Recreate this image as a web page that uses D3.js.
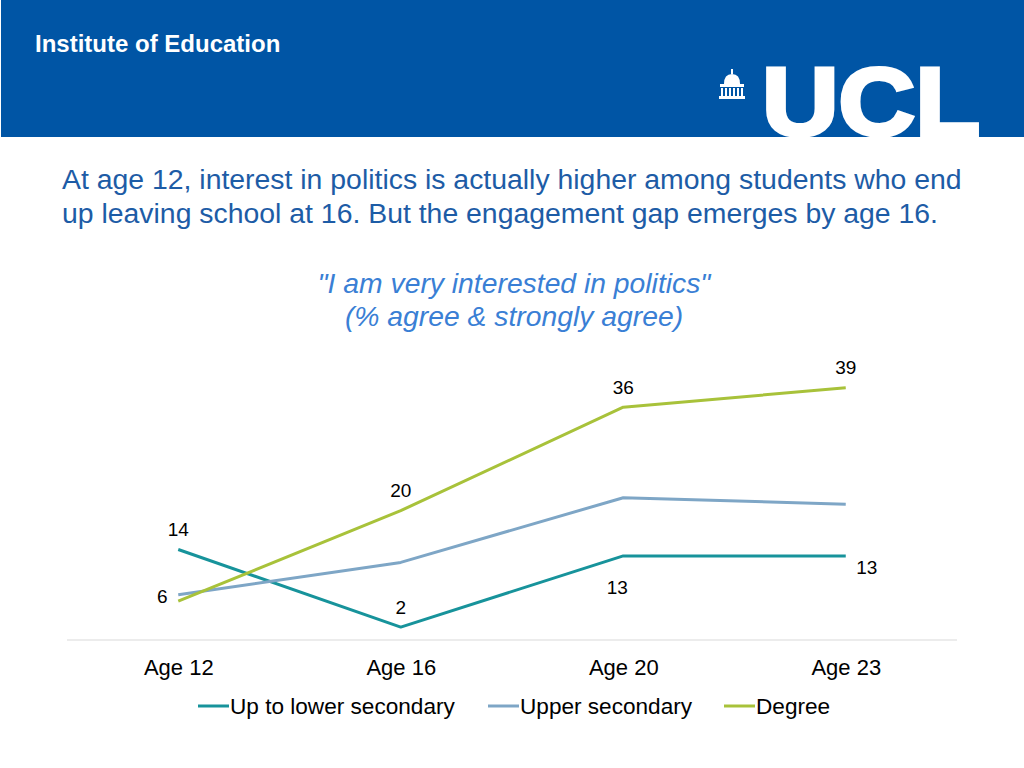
<!DOCTYPE html>
<html><head><meta charset="utf-8">
<script src="https://cdn.jsdelivr.net/npm/d3@7"></script>
<style>body{margin:0;background:#fff}svg{display:block}</style>
</head><body>
<script>
const categories = ["Age 12", "Age 16", "Age 20", "Age 23"];
const seriesNames = ["Up to lower secondary", "Upper secondary", "Degree"];
const lowerSecondary = [14, 2, 13, 13];
const upperSecondary = [7, 12, 22, 21];
const degree = [6, 20, 36, 39];
const seriesColors = ["#17939b", "#7ea6c6", "#a8c23a"];
const titleLines = ["At age 12, interest in politics is actually higher among students who end",
  "up leaving school at 16. But the engagement gap emerges by age 16."];
const subtitleLines = ["\"I am very interested in politics\"", "(% agree & strongly agree)"];

const W = 1024, H = 768;
const svg = d3.select("body").append("svg").attr("width", W).attr("height", H);
const font = "'Liberation Sans', Arial, sans-serif";

// header
svg.append("rect").attr("x", 1).attr("y", 0).attr("width", W - 1).attr("height", 137).attr("fill", "#0055a5");
svg.append("text").attr("x", 35).attr("y", 52).attr("fill", "#fff").attr("font-family", font)
  .attr("font-weight", "bold").attr("font-size", 24).text("Institute of Education");
const defs = svg.append("defs");
defs.append("clipPath").attr("id", "hdr").append("rect").attr("x", 0).attr("y", 0).attr("width", W).attr("height", 137);
const logo = svg.append("g").attr("clip-path", "url(#hdr)");
logo.append("text").attr("x", 762).attr("y", 135).attr("fill", "#fff").attr("stroke", "#fff").attr("stroke-width", 4)
  .attr("font-family", font).attr("font-weight", "bold").attr("font-size", 96)
  .attr("textLength", 218).attr("lengthAdjust", "spacingAndGlyphs").text("UCL");
// dome icon
const ic = svg.append("g").attr("fill", "#fff");
ic.append("rect").attr("x", 731).attr("y", 69).attr("width", 2).attr("height", 5);
ic.append("path").attr("d", "M724,84 Q724,74 732,74 Q740,74 740,84 Z");
ic.append("rect").attr("x", 720).attr("y", 84).attr("width", 24).attr("height", 3);
for (let i = 0; i < 6; i++) ic.append("rect").attr("x", 721 + i * 4).attr("y", 88).attr("width", 2).attr("height", 8);
ic.append("rect").attr("x", 719).attr("y", 96).attr("width", 26).attr("height", 3);

// title
svg.append("g").selectAll("text").data(titleLines).join("text")
  .attr("x", 62).attr("y", (d, i) => 189 + i * 34).attr("fill", "#1d5ca6")
  .attr("font-family", font).attr("font-size", 28.4).text(d => d);
svg.append("g").selectAll("text").data(subtitleLines).join("text")
  .attr("x", 514).attr("y", (d, i) => 293 + i * 33).attr("text-anchor", "middle").attr("fill", "#3a7fd5")
  .attr("font-family", font).attr("font-style", "italic").attr("font-size", 28.3).text(d => d);

// chart
const x = d3.scalePoint().domain(categories).range([67, 957]).padding(0.5);
const y = d3.scaleLinear().domain([0, 45]).range([640, 349]);

svg.append("line").attr("x1", 67).attr("x2", 957).attr("y1", y(0)).attr("y2", y(0))
  .attr("stroke", "#d9d9d9").attr("stroke-width", 1);

const xAxis = svg.append("g").attr("transform", `translate(0,${y(0)})`)
  .call(d3.axisBottom(x).tickSize(0).tickPadding(19));
xAxis.select(".domain").remove();
xAxis.selectAll("text").attr("font-family", font).attr("font-size", 22).attr("fill", "#000").attr("dy", "0.71em");

const allSeries = [lowerSecondary, upperSecondary, degree];
const line = d3.line().x((d, i) => x(categories[i])).y(d => y(d));
svg.append("g").selectAll("path").data(allSeries).join("path")
  .attr("d", d => line(d)).attr("fill", "none").attr("stroke", (d, i) => seriesColors[i])
  .attr("stroke-width", 3).attr("stroke-linejoin", "round");

// data labels: [series, index, dx, dy]
const labelSpec = [
  [0, 0, 0, -20], [0, 1, 0, -20], [0, 2, -6, 32], [0, 3, 21, 12],
  [2, 0, -16, -5], [2, 1, 0, -20], [2, 2, 0, -20], [2, 3, 0, -20]
];
svg.append("g").selectAll("text").data(labelSpec).join("text")
  .attr("x", d => x(categories[d[1]]) + d[2])
  .attr("y", d => y(allSeries[d[0]][d[1]]) + d[3])
  .attr("text-anchor", "middle").attr("dominant-baseline", "central")
  .attr("font-family", font).attr("font-size", 19).attr("fill", "#000")
  .text(d => allSeries[d[0]][d[1]]);

// legend
const legendX = [198, 488, 724];
const lg = svg.append("g").selectAll("g").data(seriesNames).join("g")
  .attr("transform", (d, i) => `translate(${legendX[i]},706)`);
lg.append("line").attr("x1", 0).attr("x2", 31).attr("y1", 0).attr("y2", 0)
  .attr("stroke", (d, i) => seriesColors[i]).attr("stroke-width", 3);
lg.append("text").attr("x", 32).attr("y", 0).attr("dominant-baseline", "central")
  .attr("font-family", font).attr("font-size", 22.6).attr("fill", "#000").text(d => d);
</script>
</body></html>
